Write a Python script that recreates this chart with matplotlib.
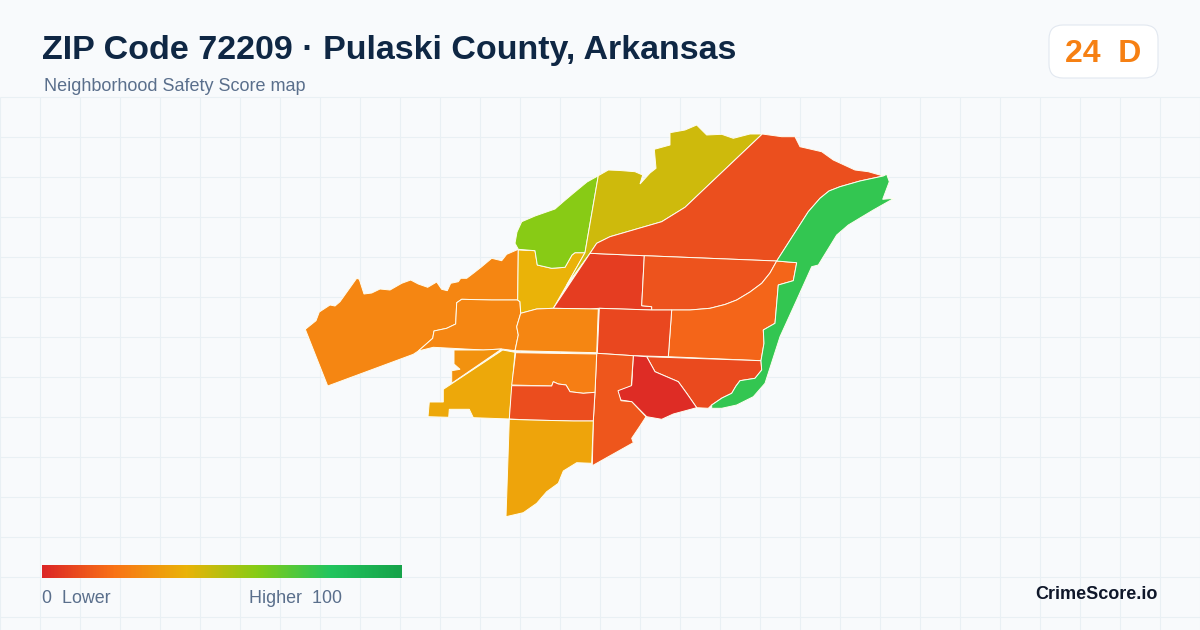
import matplotlib
matplotlib.use("Agg")
import matplotlib.pyplot as plt
from matplotlib.colors import LinearSegmentedColormap
from matplotlib.patches import FancyBboxPatch, Polygon
import numpy as np

TITLE = "ZIP Code 72209 \u00b7 Pulaski County, Arkansas"
SUBTITLE = "Neighborhood Safety Score map"
BADGE = "24  D"
BRAND = "CrimeScore.io"
OVERALL = 24

# tract outlines, (x, y) in image pixels
WEST = [(305.3, 329.3), (316, 320.7), (319.3, 312), (330, 305), (335, 306), (340, 301.7), (356.7, 278.3),
        (359.3, 279.3), (364, 294), (371.7, 293), (380, 289), (390, 290), (401.7, 283.3), (410.7, 280),
        (418.3, 284), (427.7, 287.3), (436.7, 282), (441.7, 289.3), (447.3, 290.7), (450.7, 283.3),
        (458.3, 281.7), (460.7, 278.3), (466.7, 278.3), (473.3, 273.3), (481.7, 266.7), (491.7, 258.3),
        (501.7, 260.7), (506.7, 254.3), (518.3, 249.3), (517.7, 300), (491.7, 300), (461.7, 299.3),
        (456.7, 302.7), (455.7, 324), (446.7, 328.3), (434, 331), (432.7, 338.3), (418.3, 351),
        (413.3, 354.3), (327.7, 386)]
WEST_INNER = [(456.7, 302.7), (461.7, 299.3), (491.7, 300), (517.7, 300), (520, 301.7), (520.7, 313.3),
              (516.7, 326.7), (518.3, 335), (515, 350.7), (501.7, 349), (483.3, 350), (433.3, 347.3),
              (418.3, 351), (432.7, 338.3), (434, 331), (446.7, 328.3), (455.7, 324)]
SW_SMALL = [(454, 350), (483.3, 350), (501.7, 349), (451.7, 383.3), (451.7, 370.7), (460, 369.3), (454, 364)]
SW_GOLD = [(502.7, 350), (515, 352.3), (509.3, 419), (473.3, 417.7), (469.3, 409.3), (449.3, 409.3),
           (448.7, 417.3), (428, 416.7), (429.3, 402), (443.3, 402), (443.3, 389.3)]
N_GOLD = [(518.3, 250), (535, 250.7), (537.3, 265), (551.7, 268.3), (565, 267.3), (572, 255), (575, 252.7), (585, 252.7),
          (566.7, 285), (553.3, 308.3), (536.7, 309), (520.7, 313.3), (520, 301.7), (517.7, 300)]
N_LIME = [(598.3, 175.7), (585, 252.7), (575, 252.7), (572, 255), (565, 267.3), (551.7, 268.3), (537.3, 265), (535, 250.7),
          (518.3, 249.3), (515, 243.3), (517, 232), (521.7, 221.7), (535, 216), (555, 209), (563, 202), (573.3, 193.3), (587, 182)]
N_OLIVE = [(598.3, 175.7), (608.3, 170), (620, 170.5), (635, 171.7), (642.7, 175), (640, 184), (650, 173), (656, 168.3),
           (654.3, 149.3), (670, 145), (670, 132.7), (685, 130), (696.7, 125), (706.7, 135), (721.7, 134.3), (733.3, 138.3),
           (750, 134), (762.3, 134), (685, 207.3), (661.7, 221.7), (610, 236.7), (596.7, 243.3), (590, 253.3), (566.7, 285),
           (585, 252.7)]
CENTER_RED = [(590, 253.3), (644.3, 255.7), (641.7, 305.7), (651.7, 306.7), (651.7, 310), (599.3, 308.3),
              (590, 309), (553.3, 308.3)]
NE_BIG = [(762.3, 134), (781.7, 136.7), (795, 136.7), (800, 146.7), (810, 149), (821.7, 151.7), (833.3, 160), (855, 170),
          (868.3, 171.7), (883.3, 176), (860, 181), (840, 186.7), (829, 191), (820, 198.3), (808.3, 211.7), (776.7, 261),
          (644.3, 255.7), (590, 253.3), (596.7, 243.3), (610, 236.7), (661.7, 221.7), (685, 207.3)]
E_UPPER = [(644.3, 255.7), (776.7, 261), (770, 273), (761.7, 283.3), (750, 292), (736.7, 300), (725, 304.5), (710, 308.3),
           (690, 310), (651.7, 310), (651.7, 306.7), (641.7, 305.7)]
E_LOWER = [(776.7, 261), (796.7, 262.7), (793.3, 280.7), (778.3, 285), (775, 323.3), (763.3, 330), (764, 343.3),
           (761, 360.7), (668.3, 356.7), (671.7, 310), (690, 310), (710, 308.3), (725, 304.5), (736.7, 300), (750, 292),
           (761.7, 283.3), (770, 273)]
MID_RED = [(599.3, 308.3), (651.7, 310), (671.7, 310), (668.3, 356.7), (633.3, 355.7), (597.3, 353.3)]
SE_BEND = [(646.7, 356.7), (761, 360.7), (761.7, 370), (755, 378.3), (740, 380.7), (736, 386), (731.7, 393.3), (722, 398),
           (711.7, 405), (708.3, 408.3), (696.7, 407.7), (686.7, 393.3), (678.3, 381.7), (655, 371.7)]
SE_DEEP = [(633.3, 355.7), (646.7, 356.7), (655, 371.7), (678.3, 381.7), (686.7, 393.3), (696.7, 407.7),
           (673.3, 414), (661.7, 419.3), (646.7, 416.7), (631.7, 401.7), (620.7, 400), (617.3, 390.7), (631.7, 385)]
S_RIVER = [(596.7, 353.3), (633.3, 355.7), (631.3, 385.7), (618, 390.7), (621, 400.7), (631.7, 401.7), (646, 416.7),
           (640, 426), (631.7, 438.3), (633.3, 442.7), (592.3, 465.7), (593.3, 421), (595, 392.3)]
C_NORTH = [(520.7, 313.3), (536.7, 309), (553.3, 308.3), (598.3, 309), (596.7, 352.7), (515, 350.7), (518.3, 335),
           (516.7, 326.7)]
C_MID = [(515.7, 352.7), (596.7, 354), (595, 392.3), (583.3, 393.3), (570, 391.7), (566, 385), (558.3, 384),
         (553.3, 381.7), (551.7, 386), (511.7, 385)]
C_SOUTH = [(511.7, 385.7), (551.7, 386), (553.3, 381.7), (558.3, 384), (566, 385), (570, 391.7), (583.3, 393.3),
           (595, 392.3), (593.3, 421), (573.3, 421), (530, 420), (509.3, 419)]
S_GOLD = [(509.3, 419.3), (530, 420), (573.3, 421), (593.3, 421), (591.7, 463.3), (576.7, 462.7), (563.3, 471),
          (558.3, 483.3), (546.7, 491.7), (536.7, 503.3), (523.3, 512.7), (506, 516.7)]
RIVER_GREEN = [(883.3, 176), (886.7, 174.3), (889.3, 181.7), (882.7, 199.3), (894, 198.3), (873.3, 210),
               (848.3, 225), (836.7, 235), (818.3, 265), (811.7, 266.7), (796.7, 300), (780, 336.7), (765, 383.3),
               (753.3, 396.7), (736.7, 405), (721.7, 408.3), (711.7, 408.3), (711.7, 405), (722, 398), (731.7, 393.3), (736, 386),
               (740, 380.7), (755, 378.3), (761.7, 370), (761, 360.7), (764, 343.3), (763.3, 330), (775, 323.3),
               (778.3, 285), (793.3, 280.7), (796.7, 262.7), (776.7, 261), (808.3, 211.7), (820, 198.3), (829, 191), (840, 186.7),
               (860, 181)]

TRACTS = [WEST, WEST_INNER, SW_SMALL, SW_GOLD, N_GOLD, N_LIME, N_OLIVE, CENTER_RED, NE_BIG, E_UPPER, E_LOWER,
          MID_RED, SE_BEND, SE_DEEP, S_RIVER, C_NORTH, C_MID, C_SOUTH, S_GOLD, RIVER_GREEN]
SCORES = [26, 26, 30, 36.5, 40, 59, 45.7, 6, 10.6, 12, 16.6, 8.8, 9.4, 1.8, 12.5, 26, 23.7, 10.4, 35.3, 76.3]

BG, GRID, NAVY, SLATE = "#f8fafc", "#e9f0f4", "#0f2744", "#5a6f8c"
SCORE_CMAP = LinearSegmentedColormap.from_list("score", [
    (0, "#dc2626"), (0.2, "#f97316"), (0.4, "#eab308"), (0.6, "#84cc16"), (0.8, "#22c55e"), (1, "#16a34a")])

plt.rcParams.update({"font.family": ["Liberation Sans", "DejaVu Sans"]})

fig = plt.figure(figsize=(12, 6.3), dpi=100, facecolor=BG)
ax = fig.add_axes([0, 0, 1, 1])

# background grid starts below the header
ax.vlines(np.arange(0, 1201, 40), 97, 630, color=GRID, lw=0.75, zorder=1)
ax.hlines(np.arange(97, 631, 40), 0, 1200, color=GRID, lw=0.75, zorder=1)

for pts, score in zip(TRACTS, SCORES):
    ax.add_patch(Polygon(pts, closed=True, facecolor=SCORE_CMAP(score / 100), edgecolor="#fffdf0", lw=0.7, zorder=3))

ax.text(42, 59.5, TITLE, fontsize=24.5, fontweight="bold", color=NAVY, va="baseline", ha="left", zorder=5)
ax.text(44, 90.7, SUBTITLE, fontsize=13, color=SLATE, va="baseline", ha="left", zorder=5)

ax.add_patch(FancyBboxPatch((1063, 39), 81, 25, boxstyle="round,pad=14,rounding_size=14",
                            facecolor="white", edgecolor="#e2e8f0", lw=0.8, zorder=4))
ax.text(1103, 61.7, BADGE, fontsize=23, fontweight="bold", color=SCORE_CMAP(OVERALL / 100),
        va="baseline", ha="center", zorder=5)

ax.imshow(np.linspace(0, 1, 360).reshape(1, -1), cmap=SCORE_CMAP, extent=(42, 402, 578, 565), aspect="auto", zorder=4)
ax.text(42, 602.7, "0  Lower", fontsize=12.9, color=SLATE, va="baseline", ha="left", zorder=5)
ax.text(249, 602.7, "Higher  100", fontsize=12.9, color=SLATE, va="baseline", ha="left", zorder=5)
ax.text(1158, 599, BRAND, fontsize=13, fontweight="bold", color="#0f172a", va="baseline", ha="right", zorder=5)

ax.set_xlim(0, 1200)
ax.set_ylim(630, 0)
ax.axis("off")

fig.savefig("out.png", dpi=100, facecolor=BG)
